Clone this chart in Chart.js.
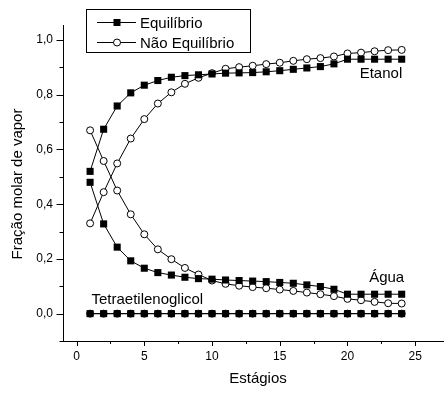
<!DOCTYPE html>
<html>
<head>
<meta charset="utf-8">
<script src="https://cdn.jsdelivr.net/npm/chart.js@4/dist/chart.umd.min.js"></script>
<style>
  html, body { margin: 0; padding: 0; background: #fff; }
  #wrap { width: 448px; height: 393px; }
</style>
</head>
<body>
<div id="wrap"><canvas id="c" width="448" height="393"></canvas></div>
<script>
// Stages of the column
const stages = Array.from({length: 24}, (_, i) => i + 1);

// Vapour mole fractions per stage
const etanolEq  = [0.520, 0.674, 0.759, 0.807, 0.835, 0.852, 0.864, 0.870, 0.873, 0.876, 0.879, 0.880,
                   0.881, 0.884, 0.888, 0.893, 0.898, 0.903, 0.913, 0.930, 0.930, 0.930, 0.930, 0.930];
const etanolNeq = [0.330, 0.444, 0.549, 0.640, 0.711, 0.768, 0.809, 0.840, 0.862, 0.879, 0.895, 0.901,
                   0.906, 0.912, 0.917, 0.924, 0.930, 0.934, 0.940, 0.951, 0.954, 0.959, 0.963, 0.964];
const aguaEq    = [0.480, 0.328, 0.243, 0.193, 0.166, 0.150, 0.141, 0.133, 0.128, 0.126, 0.123, 0.121,
                   0.119, 0.117, 0.114, 0.111, 0.105, 0.099, 0.089, 0.071, 0.071, 0.071, 0.071, 0.071];
const aguaNeq   = [0.670, 0.558, 0.450, 0.363, 0.290, 0.235, 0.199, 0.167, 0.143, 0.121, 0.109, 0.102,
                   0.097, 0.093, 0.088, 0.083, 0.077, 0.071, 0.064, 0.054, 0.049, 0.043, 0.038, 0.037];
const tegEq     = [0, 0, 0, 0, 0, 0, 0, 0, 0, 0, 0, 0, 0, 0, 0, 0, 0, 0, 0, 0, 0, 0, 0, 0];
const tegNeq    = [0, 0, 0, 0, 0, 0, 0, 0, 0, 0, 0, 0, 0, 0, 0, 0, 0, 0, 0, 0, 0, 0, 0, 0];

// Axis titles and legend entries
const xTitle = 'Estágios';
const yTitle = 'Fração molar de vapor';
const legendLabels = ['Equilíbrio', 'Não Equilíbrio'];

// Component names placed inside the plot (data coordinates)
const componentLabels = [
  {text: 'Etanol', x: 20.9, y: 0.862},
  {text: 'Água', x: 21.6, y: 0.116},
  {text: 'Tetraetilenoglicol', x: 1.1, y: 0.034}
];

const FONT = '"Liberation Sans", Arial, sans-serif';

const pts = arr => arr.map((v, i) => ({x: stages[i], y: v}));

function eqSet(data, order) {
  return {
    data: pts(data), borderColor: '#000', borderWidth: 1,
    pointStyle: 'rect', pointRadius: 5, pointHoverRadius: 5,
    pointBackgroundColor: '#000', pointBorderColor: '#000', pointBorderWidth: 0,
    tension: 0, fill: false, order: order
  };
}
function neqSet(data, order) {
  return {
    data: pts(data), borderColor: '#000', borderWidth: 1,
    pointStyle: 'circle', pointRadius: 3.5, pointHoverRadius: 3.5,
    pointBackgroundColor: '#fff', pointBorderColor: '#000', pointBorderWidth: 1,
    tension: 0, fill: false, order: order
  };
}

// Tick marks: long at labelled values, short in between, pointing outward
const tickMarks = {
  id: 'tickMarks',
  afterDraw(chart) {
    const ctx = chart.ctx;
    const xs = chart.scales.x, ys = chart.scales.y;
    ctx.save();
    ctx.strokeStyle = '#000';
    ctx.lineWidth = 1;
    const bottom = chart.chartArea.bottom, left = chart.chartArea.left;
    xs.ticks.forEach(t => {
      const major = Math.abs(t.value / 5 - Math.round(t.value / 5)) < 1e-6;
      const px = Math.round(xs.getPixelForValue(t.value)) + 0.5;
      ctx.beginPath();
      ctx.moveTo(px, bottom);
      ctx.lineTo(px, bottom + (major ? 5 : 3));
      ctx.stroke();
    });
    ys.ticks.forEach(t => {
      const major = Math.abs(t.value / 0.2 - Math.round(t.value / 0.2)) < 1e-6;
      const py = Math.round(ys.getPixelForValue(t.value)) + 0.5;
      ctx.beginPath();
      ctx.moveTo(left, py);
      ctx.lineTo(left - (major ? 6.5 : 3.5), py);
      ctx.stroke();
    });
    ctx.restore();
  }
};

// Axis titles, component names and the boxed legend
const annotations = {
  id: 'annotations',
  afterDraw(chart) {
    const ctx = chart.ctx;
    const xs = chart.scales.x, ys = chart.scales.y;
    ctx.save();
    ctx.fillStyle = '#000';
    ctx.font = '15px ' + FONT;

    // axis titles
    ctx.textAlign = 'center';
    ctx.textBaseline = 'middle';
    ctx.fillText(xTitle, 258, 379);
    ctx.save();
    ctx.translate(18, 184);
    ctx.rotate(-Math.PI / 2);
    ctx.fillText(yTitle, 0, 0);
    ctx.restore();

    ctx.textBaseline = 'alphabetic';
    ctx.textAlign = 'left';
    componentLabels.forEach(l => {
      ctx.fillText(l.text, xs.getPixelForValue(l.x), ys.getPixelForValue(l.y));
    });

    // legend box
    const bx = 86.5, by = 9.5, bw = 164, bh = 43;
    ctx.fillStyle = '#fff';
    ctx.fillRect(bx, by, bw, bh);
    ctx.strokeStyle = '#000';
    ctx.lineWidth = 1;
    ctx.strokeRect(bx, by, bw, bh);
    const rows = [22.5, 42.5];
    rows.forEach((ry, i) => {
      ctx.beginPath();
      ctx.moveTo(97, ry);
      ctx.lineTo(136, ry);
      ctx.stroke();
      if (i === 0) {
        ctx.fillStyle = '#000';
        ctx.fillRect(113.5, ry - 3.5, 7, 7);
      } else {
        ctx.beginPath();
        ctx.arc(117, ry, 3.5, 0, Math.PI * 2);
        ctx.fillStyle = '#fff';
        ctx.fill();
        ctx.stroke();
      }
      ctx.fillStyle = '#000';
      ctx.font = '15px ' + FONT;
      ctx.textBaseline = 'middle';
      ctx.fillText(legendLabels[i], 140, ry + 1);
    });
    ctx.restore();
  }
};

new Chart(document.getElementById('c'), {
  type: 'line',
  data: {
    datasets: [
      eqSet(etanolEq, 2), neqSet(etanolNeq, 3),
      eqSet(aguaEq, 2), neqSet(aguaNeq, 3),
      eqSet(tegEq, 1), neqSet(tegNeq, 2)
    ]
  },
  options: {
    responsive: false,
    animation: false,
    devicePixelRatio: 1,
    layout: {padding: {top: 25, right: 0, left: 0, bottom: 0}},
    plugins: {legend: {display: false}, tooltip: {enabled: false}},
    scales: {
      x: {
        type: 'linear', min: -1, max: 27.05,
        border: {display: true, color: '#000', width: 1},
        grid: {display: false, drawTicks: false},
        ticks: {
          stepSize: 2.5, autoSkip: false, includeBounds: false, maxRotation: 0,
          color: '#000', font: {family: FONT, size: 12}, padding: 8,
          callback: v => (Math.abs(v / 5 - Math.round(v / 5)) < 1e-6 ? String(Math.round(v)) : '')
        },
        afterFit: s => { s.height = 52; }
      },
      y: {
        type: 'linear', min: -0.1, max: 1.055,
        border: {display: true, color: '#000', width: 1},
        grid: {display: false, drawTicks: false},
        ticks: {
          stepSize: 0.1, autoSkip: false, includeBounds: false,
          color: '#000', font: {family: FONT, size: 12}, padding: 10,
          callback: v => {
            const k = v / 0.2;
            if (v < -1e-9 || Math.abs(k - Math.round(k)) > 1e-6) return '';
            return v.toFixed(1).replace('.', ',');
          }
        },
        afterFit: s => { s.width = 63; }
      }
    }
  },
  plugins: [tickMarks, annotations]
});
</script>
</body>
</html>
